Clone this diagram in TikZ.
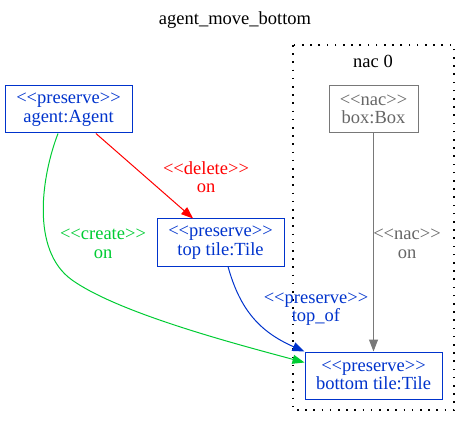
\documentclass[tikz,border=0pt]{standalone}
\usepackage{fontspec}
\setmainfont{Liberation Serif}
\usetikzlibrary{arrows.meta,calc}
\definecolor{pblue}{RGB}{0,51,204}
\definecolor{dred}{RGB}{255,0,0}
\definecolor{cgreen}{RGB}{0,204,51}
\definecolor{ngray}{RGB}{102,102,102}
\definecolor{nline}{RGB}{120,120,120}
\newcommand\stereo[1]{{<}{<}#1{>}{>}}
\begin{document}
\begin{tikzpicture}[x=1pt,y=-1pt,
  txt/.style={font=\fontsize{18.5}{18.5}\selectfont,align=center,inner sep=0pt},
  obj/.style={txt,draw,line width=1pt,minimum height=47pt},
  edge/.style={line width=1pt,-{Triangle[length=12pt,width=9pt]}},
  lbl/.style={txt}]
\useasboundingbox (0,0) rectangle (470,427);
\node[txt] (title) at (235,20) {agent\_move\_bottom};
\draw[line width=1.6pt,dash pattern=on 1.6pt off 6.6pt] (293,45) rectangle (454,410);
\node[txt] (nac) at (373,61) {nac 0};
\node[obj,draw=pblue,text=pblue,minimum width=127pt] (agent) at (68.5,109.5) {\stereo{preserve}\\agent:Agent};
\node[obj,draw=nline,text=ngray,minimum width=89pt] (box) at (373.5,109.5) {\stereo{nac}\\box:Box};
\node[obj,draw=pblue,text=pblue,minimum width=127pt] (top) at (220.5,242.5) {\stereo{preserve}\\top tile:Tile};
\node[obj,draw=pblue,text=pblue,minimum width=137pt] (bottom) at (373.5,375.5) {\stereo{preserve}\\bottom tile:Tile};
% edges
\draw[edge,dred] (agent) -- (top);
\draw[edge,nline] (box) -- (bottom);
\draw[edge,cgreen] (agent.south) ++(-10.5,0) coordinate (gs)
  (gs) .. controls (42,175) and (30,250) .. (72,280)
  .. controls (120,314) and (240,345) .. ([yshift=13]bottom.west);
\draw[edge,pblue] (top.south) ++(7.5,0) coordinate (bs)
  (bs) .. controls (240,310) and (260,332) .. (bottom.north west);
% labels
\node[lbl,text=dred] (l1) at (206,177) {\stereo{delete}\\on};
\node[lbl,text=cgreen] (l2) at (103,244) {\stereo{create}\\on};
\node[lbl,text=ngray] (l3) at (407,244) {\stereo{nac}\\on};
\node[lbl,text=pblue] (l4) at (316,309) {\stereo{preserve}\\top\_of};
\end{tikzpicture}
\end{document}
